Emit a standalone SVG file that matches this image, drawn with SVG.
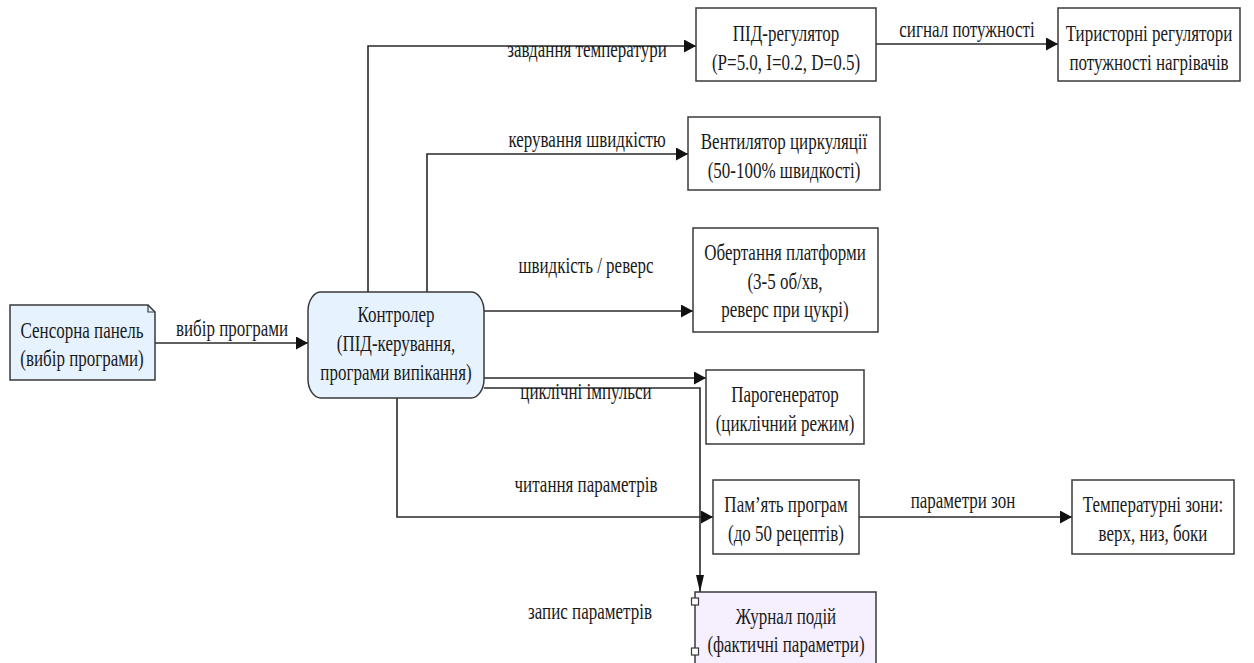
<svg xmlns="http://www.w3.org/2000/svg" width="1254" height="663" viewBox="0 0 1254 663">
<style>
.t{font-family:"Liberation Serif","Times New Roman",Times,"DejaVu Serif","Noto Serif",serif;font-size:17px;fill:#1a1a1a;text-anchor:middle}
.box{fill:#ffffff;stroke:#3a3a3a;stroke-width:1.5}
.blue{fill:#e6f2fd;stroke:#3a3a3a;stroke-width:1.5}
.lav{fill:#f6effd;stroke:#3a3a3a;stroke-width:1.5}
.edge{fill:none;stroke:#2a2a2a;stroke-width:1.6}
</style>
<defs>
<marker id="ah" markerUnits="userSpaceOnUse" viewBox="0 0 12 13" refX="12" refY="6.5" markerWidth="12" markerHeight="13" orient="auto"><path d="M0,0 L12,6.5 L0,13 Z" fill="#111"/></marker>
<marker id="ahd" markerUnits="userSpaceOnUse" viewBox="0 0 8 17" refX="4" refY="17" markerWidth="8" markerHeight="17" orient="0"><path d="M0,0 L8,0 L4,17 Z" fill="#111"/></marker>
</defs>
<rect width="1254" height="663" fill="#ffffff"/>
<g id="connectors">
<path class="edge" d="M155,343 H308" marker-end="url(#ah)"/>
<path class="edge" d="M368,292 V46 H696" marker-end="url(#ah)"/>
<path class="edge" d="M876,44 H1058" marker-end="url(#ah)"/>
<path class="edge" d="M427,292 V154 H688" marker-end="url(#ah)"/>
<path class="edge" d="M484,311 H693" marker-end="url(#ah)"/>
<path class="edge" d="M484,378 H706" marker-end="url(#ah)"/>
<path class="edge" d="M484,388 H700 V592" marker-end="url(#ahd)"/>
<path class="edge" d="M397,398 V517 H713" marker-end="url(#ah)"/>
<path class="edge" d="M859,517 H1072" marker-end="url(#ah)"/>
<text class="t" font-family="Liberation Serif" transform="translate(232 336) scale(1 1.32)">вибір програми</text>
<text class="t" transform="translate(587 57) scale(1 1.32)">завдання температури</text>
<text class="t" transform="translate(967 37) scale(1 1.32)">сигнал потужності</text>
<text class="t" transform="translate(587 147) scale(1 1.32)">керування швидкістю</text>
<text class="t" transform="translate(586 273) scale(1 1.32)">швидкість / реверс</text>
<text class="t" transform="translate(586 399) scale(1 1.32)">циклічні імпульси</text>
<text class="t" transform="translate(590 619) scale(1 1.32)">запис параметрів</text>
<text class="t" transform="translate(586 492) scale(1 1.32)">читання параметрів</text>
<text class="t" transform="translate(963 508) scale(1 1.32)">параметри зон</text>
</g>
<g id="sensor">
<path class="blue" d="M10,305 H148 L155,312 V380 H10 Z"/>
<path d="M148,305 V312 H155" fill="none" stroke="#3a3a3a" stroke-width="1.2"/>
<text class="t" transform="translate(82 338) scale(1 1.32)">Сенсорна панель</text>
<text class="t" transform="translate(82 366) scale(1 1.32)">(вибір програми)</text>
</g>
<g id="controller">
<rect class="blue" x="308" y="292" width="176" height="106" rx="13" ry="19"/>
<text class="t" transform="translate(396 322) scale(1 1.32)">Контролер</text>
<text class="t" transform="translate(396 351) scale(1 1.32)">(ПІД-керування,</text>
<text class="t" transform="translate(396 380) scale(1 1.32)">програми випікання)</text>
</g>
<g id="pid">
<rect class="box" x="696" y="8" width="180" height="73"/>
<text class="t" transform="translate(786 41) scale(1 1.32)">ПІД-регулятор</text>
<text class="t" transform="translate(786 70) scale(1 1.32)">(P=5.0, I=0.2, D=0.5)</text>
</g>
<g id="thyristor">
<rect class="box" x="1058" y="8" width="182" height="73"/>
<text class="t" transform="translate(1149 41) scale(1 1.32)">Тиристорні регулятори</text>
<text class="t" transform="translate(1149 70) scale(1 1.32)">потужності нагрівачів</text>
</g>
<g id="fan">
<rect class="box" x="688" y="117" width="192" height="73"/>
<text class="t" transform="translate(784 149) scale(1 1.32)">Вентилятор циркуляції</text>
<text class="t" transform="translate(784 178) scale(1 1.32)">(50-100% швидкості)</text>
</g>
<g id="platform">
<rect class="box" x="693" y="228" width="185" height="104"/>
<text class="t" transform="translate(785 260) scale(1 1.32)">Обертання платформи</text>
<text class="t" transform="translate(785 289) scale(1 1.32)">(3-5 об/хв,</text>
<text class="t" transform="translate(785 317) scale(1 1.32)">реверс при цукрі)</text>
</g>
<g id="steam">
<rect class="box" x="706" y="370" width="158" height="74"/>
<text class="t" transform="translate(785 402) scale(1 1.32)">Парогенератор</text>
<text class="t" transform="translate(785 431) scale(1 1.32)">(циклічний режим)</text>
</g>
<g id="memory">
<rect class="box" x="713" y="480" width="146" height="74"/>
<text class="t" transform="translate(786 512) scale(1 1.32)">Пам’ять програм</text>
<text class="t" transform="translate(786 541) scale(1 1.32)">(до 50 рецептів)</text>
</g>
<g id="zones">
<rect class="box" x="1072" y="480" width="162" height="74"/>
<text class="t" transform="translate(1153 512) scale(1 1.32)">Температурні зони:</text>
<text class="t" transform="translate(1153 541) scale(1 1.32)">верх, низ, боки</text>
</g>
<g id="journal">
<rect class="lav" x="695" y="592" width="181" height="80"/>
<rect x="691.5" y="598" width="7" height="7" fill="#ffffff" stroke="#3a3a3a" stroke-width="1.2"/>
<rect x="691.5" y="648" width="7" height="7" fill="#ffffff" stroke="#3a3a3a" stroke-width="1.2"/>
<text class="t" transform="translate(786 624) scale(1 1.32)">Журнал подій</text>
<text class="t" transform="translate(786 652) scale(1 1.32)">(фактичні параметри)</text>
</g>
</svg>
